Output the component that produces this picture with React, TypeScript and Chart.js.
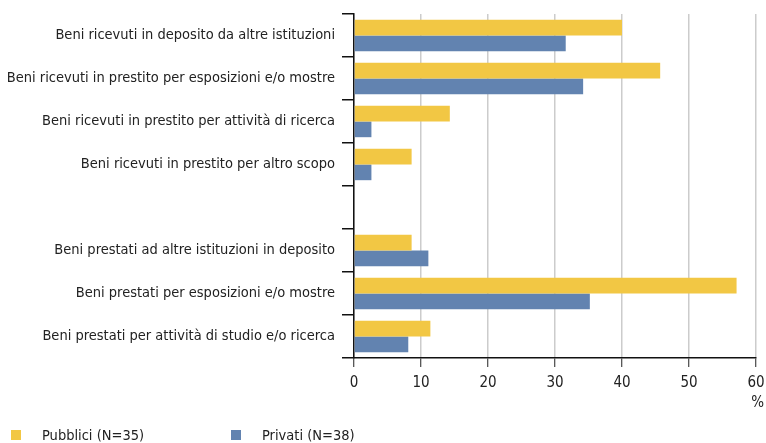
import React, { useEffect, useRef } from "react";
import { Chart, registerables } from "chart.js";

Chart.register(...registerables);

const categories = [
  "Beni ricevuti in deposito da altre istituzioni",
  "Beni ricevuti in prestito per esposizioni e/o mostre",
  "Beni ricevuti in prestito per attività di ricerca",
  "Beni ricevuti in prestito per altro scopo",
  "",
  "Beni prestati ad altre istituzioni in deposito",
  "Beni prestati per esposizioni e/o mostre",
  "Beni prestati per attività di studio e/o ricerca",
];

const pubblici = [40.0, 45.7, 14.3, 8.6, null, 8.6, 57.1, 11.4];
const privati = [31.6, 34.2, 2.6, 2.6, null, 11.1, 35.2, 8.1];

const seriesLabels = ["Pubblici (N=35)", "Privati (N=38)"];
const seriesColors = ["#F2C744", "#6283B0"];
const xTicks = [0, 10, 20, 30, 40, 50, 60];
const unitLabel = "%";

const FONT = '"Liberation Sans Narrow", "DejaVu Sans Condensed", sans-serif';

export default function App() {
  const ref = useRef<HTMLCanvasElement | null>(null);

  useEffect(() => {
    if (!ref.current) return;
    const chart = new Chart(ref.current, {
      type: "bar",
      data: {
        labels: categories,
        datasets: [
          {
            label: seriesLabels[0],
            data: pubblici,
            backgroundColor: seriesColors[0],
            categoryPercentage: 0.73,
            barPercentage: 1.0,
          },
          {
            label: seriesLabels[1],
            data: privati,
            backgroundColor: seriesColors[1],
            categoryPercentage: 0.73,
            barPercentage: 1.0,
          },
        ],
      },
      options: {
        indexAxis: "y",
        animation: false,
        responsive: false,
        layout: { padding: { top: 14, right: 10, bottom: 44, left: 0 } },
        plugins: {
          legend: { display: false },
          tooltip: { enabled: false },
        },
        scales: {
          x: {
            min: 0,
            max: 60,
            afterBuildTicks: (scale: any) => {
              scale.ticks = xTicks.map((v) => ({ value: v }));
            },
            afterFit: (scale: any) => {
              scale.paddingLeft = 0;
              scale.paddingRight = 0;
            },
            grid: {
              color: "#cccccc",
              lineWidth: 1.5,
              tickColor: "#222222",
              tickLength: 9,
              tickWidth: 1,
            },
            border: { color: "#111111", width: 1.5 },
            ticks: {
              color: "#222222",
              font: { family: FONT, size: 15 },
              padding: 7,
            },
          },
          y: {
            afterFit: (scale: any) => {
              scale.width = 354;
              scale.paddingTop = 0;
              scale.paddingBottom = 0;
            },
            grid: {
              drawOnChartArea: false,
              drawTicks: true,
              tickLength: 12,
              color: "#111111",
              tickColor: "#111111",
              lineWidth: 1.5,
            },
            border: { color: "#111111", width: 1.5 },
            ticks: {
              color: "#222222",
              font: { family: FONT, size: 14.5 },
              padding: 7,
            },
          },
        },
      },
    });
    return () => chart.destroy();
  }, []);

  const legendItem = (i: number, left: number) => (
    <div
      key={i}
      style={{
        position: "absolute",
        left,
        top: 427,
        display: "flex",
        alignItems: "center",
        fontFamily: FONT,
        fontSize: 14.5,
        color: "#222222",
        whiteSpace: "nowrap",
      }}
    >
      <span
        style={{
          display: "inline-block",
          width: 10,
          height: 10,
          background: seriesColors[i],
          marginRight: 21,
        }}
      />
      <span>{seriesLabels[i]}</span>
    </div>
  );

  return (
    <div
      style={{
        position: "fixed",
        left: 0,
        top: 0,
        width: 766,
        height: 443,
        background: "#ffffff",
        overflow: "hidden",
      }}
    >
      <canvas ref={ref} width={766} height={443} style={{ width: 766, height: 443, display: "block" }} />
      <div
        style={{
          position: "absolute",
          right: 2,
          top: 393,
          fontFamily: FONT,
          fontSize: 15,
          color: "#222222",
        }}
      >
        {unitLabel}
      </div>
      {legendItem(0, 11)}
      {legendItem(1, 231)}
    </div>
  );
}
